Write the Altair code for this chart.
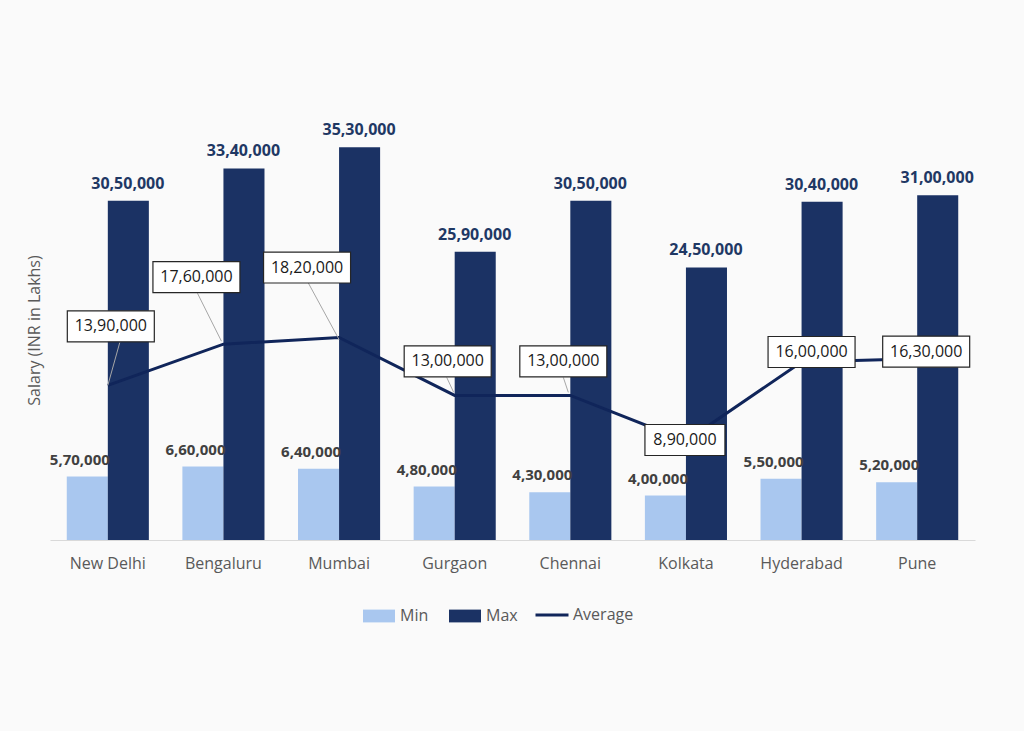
import altair as alt
import pandas as pd

# City-wise salary figures (INR)
cities = ["New Delhi", "Bengaluru", "Mumbai", "Gurgaon", "Chennai", "Kolkata", "Hyderabad", "Pune"]
min_salary = [570000, 660000, 640000, 480000, 430000, 400000, 550000, 520000]
max_salary = [3050000, 3340000, 3530000, 2590000, 3050000, 2450000, 3040000, 3100000]
avg_salary = [1390000, 1760000, 1820000, 1300000, 1300000, 890000, 1600000, 1630000]

# Callout placement for the average labels, in pixels relative to the line vertex:
# box centre offset, and leader segment (start dx, dy -> end dx, dy); None = no leader.
callout_box = [(3, -59), (-27, -67), (-32, -70), (-7, -34), (-7, -34), (-1, -1), (10, -10), (9, -7)]
callout_leader = [(12, -43, 0, 0), (-26, -51, -2, -3), (-31, -55, 0, 2), (-8, -18, -1, -3),
                  (-7, -18, -2, -3), None, None, None]

BG = "#fafafa"
MIN_COLOR = "#a9c7ef"
MAX_COLOR = "#1b3264"
LINE_COLOR = "#10255a"
TEXT_GRAY = "#595959"
FONT = "Open Sans"


def indian(n):
    """Format an integer with Indian digit grouping, e.g. 3050000 -> 30,50,000."""
    s = str(int(n))
    if len(s) <= 3:
        return s
    head, tail = s[:-3], s[-3:]
    groups = []
    while len(head) > 2:
        groups.insert(0, head[-2:])
        head = head[:-2]
    if head:
        groups.insert(0, head)
    return ",".join(groups) + "," + tail


bars = pd.DataFrame(
    [{"city": c, "series": "Min", "value": v, "label": indian(v)} for c, v in zip(cities, min_salary)]
    + [{"city": c, "series": "Max", "value": v, "label": indian(v)} for c, v in zip(cities, max_salary)]
)

BOX_H = 31
rows = []
for c, v, (bx, by), lead in zip(cities, avg_salary, callout_box, callout_leader):
    lab = indian(v)
    w = 87 if len(lab) > 8 else 80
    box = f"M{bx - w / 2},{by - BOX_H / 2}h{w}v{BOX_H}h{-w}Z"
    leader = f"M{lead[0]},{lead[1]}L{lead[2]},{lead[3]}" if lead else "M0,0L0,0"
    rows.append({"city": c, "series": "Average", "value": v, "label": lab,
                 "bx": bx, "by": by, "box": box, "leader": leader})
avg = pd.DataFrame(rows)

x_enc = alt.X(
    "city:N",
    sort=cities,
    scale=alt.Scale(paddingInner=0.29, paddingOuter=0.145),
    axis=alt.Axis(
        title=None, labelAngle=0, ticks=False, domain=True, domainColor="#d9d9d9",
        domainWidth=1, labelFont=FONT, labelFontSize=16, labelColor=TEXT_GRAY,
        labelPadding=15, grid=False,
    ),
)
y_axis = alt.Axis(
    title="Salary (INR in Lakhs)", labels=False, ticks=False, domain=False, grid=False,
    titleFont=FONT, titleFontSize=16, titleFontWeight="normal", titleColor=TEXT_GRAY,
    titleX=-8, titleY=235,
)
y_enc = alt.Y("value:Q", scale=alt.Scale(domain=[0, 4000000], nice=False), axis=y_axis)

bar_layer = alt.Chart(bars).mark_bar().encode(
    x=x_enc,
    y=y_enc,
    xOffset=alt.XOffset("series:N", sort=["Min", "Max"], scale=alt.Scale(paddingInner=0, paddingOuter=0)),
    color=alt.Color(
        "series:N",
        scale=alt.Scale(domain=["Min", "Max"], range=[MIN_COLOR, MAX_COLOR]),
        legend=alt.Legend(
            orient="none", legendX=313, legendY=505, direction="horizontal", title=None,
            symbolType="M-1,-0.4H1V0.4H-1Z", symbolSize=1024, symbolStrokeWidth=0,
            labelFont=FONT, labelFontSize=16, labelColor=TEXT_GRAY, labelOffset=5,
            columnPadding=20,
        ),
    ),
)

max_labels = alt.Chart(bars[bars.series == "Max"]).mark_text(
    font=FONT, fontSize=16, fontWeight="bold", color="#1f3864", baseline="middle", dy=-17, dx=20
).encode(x=x_enc, y=y_enc, text="label:N")

min_labels = alt.Chart(bars[bars.series == "Min"]).mark_text(
    font=FONT, fontSize=15, fontWeight="bold", color="#404040", baseline="middle", dy=-17, dx=-28
).encode(x=x_enc, y=y_enc, text="label:N")

line_layer = alt.Chart(avg).mark_line(strokeWidth=3).encode(
    x=x_enc,
    y=y_enc,
    stroke=alt.Stroke(
        "series:N",
        scale=alt.Scale(domain=["Average"], range=[LINE_COLOR]),
        legend=alt.Legend(
            orient="none", legendX=484, legendY=502, title=None, symbolType="stroke",
            symbolSize=1089, symbolStrokeWidth=3, labelFont=FONT, labelFontSize=16,
            labelColor=TEXT_GRAY, labelOffset=3,
        ),
    ),
)

leader_layer = alt.Chart(avg).mark_point(
    filled=False, size=4, stroke="#a6a6a6", strokeWidth=1, opacity=1
).encode(x=x_enc, y=y_enc, shape=alt.Shape("leader:N", scale=None, legend=None))

box_layer = alt.Chart(avg).mark_point(
    filled=True, size=4, fill="white", stroke="#262626", strokeWidth=1.2, opacity=1
).encode(x=x_enc, y=y_enc, shape=alt.Shape("box:N", scale=None, legend=None))

box_text = alt.Chart(avg).mark_text(
    font=FONT, fontSize=16, color="#1a1a1a", baseline="middle", align="center",
    dx=alt.expr("datum.bx"), dy=alt.expr("datum.by"),
).encode(x=x_enc, y=y_enc, text="label:N")

chart = (
    alt.layer(bar_layer, line_layer, leader_layer, box_layer, box_text, max_labels, min_labels)
    .properties(
        width=925, height=445, background=BG,
        padding={"left": 50, "right": 49, "top": 95, "bottom": 191},
        autosize=alt.AutoSizeParams(type="none"),
    )
    .configure_view(stroke=None)
)

chart.save("out.html", embed_options={"renderer": "svg", "actions": False})
